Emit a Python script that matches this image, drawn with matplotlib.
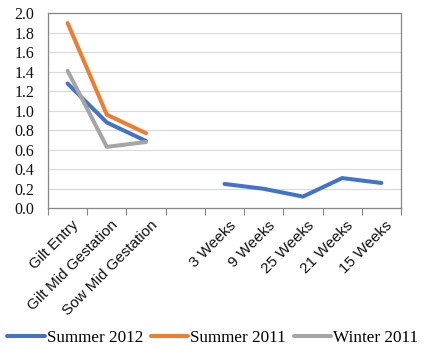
import matplotlib.pyplot as plt
import matplotlib.transforms as mtransforms
import numpy as np

categories = ["Gilt Entry", "Gilt Mid Gestation", "Sow Mid Gestation", "",
              "3 Weeks", "9 Weeks", "25 Weeks", "21 Weeks", "15 Weeks"]
summer_2012 = [1.28, 0.88, 0.69, np.nan, 0.25, 0.20, 0.12, 0.31, 0.26]
summer_2011 = [1.90, 0.96, 0.77, np.nan, np.nan, np.nan, np.nan, np.nan, np.nan]
winter_2011 = [1.41, 0.63, 0.68, np.nan, np.nan, np.nan, np.nan, np.nan, np.nan]
y_ticks = [0.0, 0.2, 0.4, 0.6, 0.8, 1.0, 1.2, 1.4, 1.6, 1.8, 2.0]

dpi = 100
fig = plt.figure(figsize=(428 / dpi, 355 / dpi), dpi=dpi)
W, H = 428, 355
ax = fig.add_axes([48 / W, 1 - 208.3 / H, (401 - 48) / W, (208.3 - 13.3) / H])

x = np.arange(len(categories))
ax.plot(x, summer_2012, color="#4472C4", lw=2.9, label="Summer 2012",
        solid_capstyle="round", zorder=3)
ax.plot(x, summer_2011, color="#ED7D31", lw=2.9, label="Summer 2011",
        solid_capstyle="round", zorder=3)
ax.plot(x, winter_2011, color="#A5A5A5", lw=2.9, label="Winter 2011",
        solid_capstyle="round", zorder=3)

ax.set_xlim(-0.5, len(categories) - 0.5)
ax.set_ylim(0, 2.0)
ax.set_yticks(y_ticks)
ax.set_yticklabels(["%.1f" % v for v in y_ticks], family="Liberation Serif",
                   fontsize=11.5)
ax.tick_params(axis="y", length=0, pad=10, colors="#111111")
ax.yaxis.grid(True, color="#D9D9D9", lw=0.8)
ax.set_axisbelow(True)

# ticks at category borders, labels at centres
ax.set_xticks(np.arange(len(categories) + 1) - 0.5)
ax.set_xticklabels([])
ax.tick_params(axis="x", which="major", length=5, color="#868686", width=0.8)
ax.set_xticks(x, minor=True)
ax.set_xticklabels(categories, minor=True, rotation=45, ha="right",
                   rotation_mode="anchor", family="Liberation Sans",
                   fontsize=11, color="#111111")
ax.tick_params(axis="x", which="minor", length=0, pad=7)
shift = mtransforms.ScaledTranslation(4 / dpi, 0, fig.dpi_scale_trans)
for lab in ax.get_xticklabels(minor=True):
    lab.set_transform(lab.get_transform() + shift)

for s in ax.spines.values():
    s.set_color("#868686")
    s.set_linewidth(0.9)

fig.legend(loc="center", bbox_to_anchor=(0.497, 1 - 337.7 / H), ncol=3,
           frameon=False, prop={"family": "Liberation Serif", "size": 12.3},
           handlelength=2.2, handletextpad=0.1, columnspacing=0.45,
           borderpad=0, borderaxespad=0)

fig.savefig("out.png", dpi=dpi)
